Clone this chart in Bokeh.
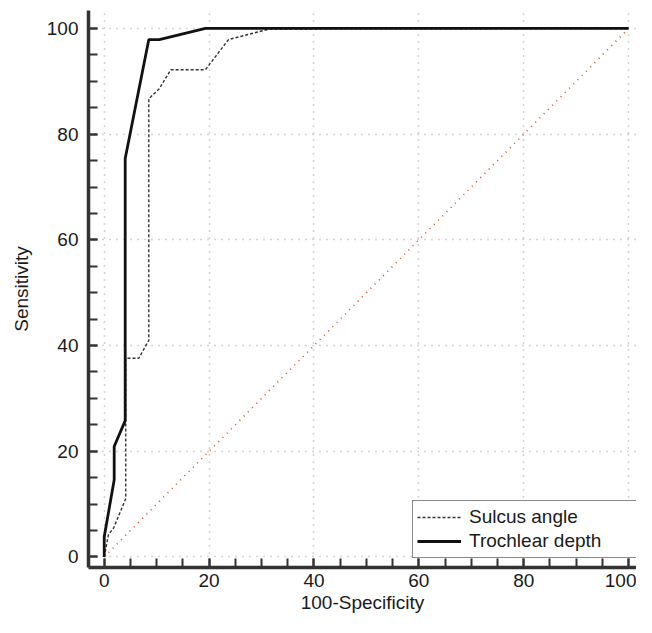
from bokeh.plotting import figure
from bokeh.models import SingleIntervalTicker, Range1d
from bokeh.embed import file_html
from bokeh.resources import INLINE

# ROC curves (x = 100-Specificity, y = Sensitivity)
sulcus_x = [0, 0.8, 1.8, 4.1, 4.1, 6.6, 8.5, 8.5, 10.5, 12.7, 19.3, 23.7, 31.5, 100]
sulcus_y = [0, 4.2, 5.5, 11.0, 37.6, 37.6, 41.0, 86.7, 88.6, 92.2, 92.2, 97.9, 99.9, 100]

trochlear_x = [0, 0, 1.9, 1.9, 4.0, 4.0, 8.5, 10.5, 19.3, 100]
trochlear_y = [0, 3.8, 14.6, 20.9, 25.8, 75.4, 97.9, 97.9, 100, 100]

diag_x = [0, 100]
diag_y = [0, 100]

FONT = "Liberation Sans"

p = figure(width=636, height=617, output_backend="svg", toolbar_location=None,
           x_range=Range1d(-3, 101.5), y_range=Range1d(-2, 103.4),
           min_border_left=88, min_border_right=0, min_border_top=10, min_border_bottom=50,
           background_fill_color="white", border_fill_color="white")
p.outline_line_color = None

p.line(diag_x, diag_y, line_color="#d4502c", line_width=1.6, line_dash="1 5")
p.line(sulcus_x, sulcus_y, line_color="#333333", line_width=1.4, line_dash="3 2",
       legend_label="Sulcus angle")
p.line(trochlear_x, trochlear_y, line_color="#111111", line_width=2.8,
       legend_label="Trochlear depth")

for ax in (p.xaxis[0], p.yaxis[0]):
    ax.ticker = SingleIntervalTicker(interval=20, num_minor_ticks=4)
    ax.axis_line_width = 3.5
    ax.axis_line_color = "#333333"
    ax.major_tick_in = 9
    ax.major_tick_out = 0
    ax.minor_tick_in = 9
    ax.minor_tick_out = 0
    ax.major_tick_line_width = 2
    ax.minor_tick_line_width = 2
    ax.major_tick_line_color = "#333333"
    ax.minor_tick_line_color = "#333333"
    ax.major_label_text_font = FONT
    ax.major_label_text_font_size = "19px"
    ax.major_label_text_color = "#1a1a1a"
    ax.axis_label_text_font = FONT
    ax.axis_label_text_font_size = "19px"
    ax.axis_label_text_font_style = "normal"
    ax.axis_label_text_color = "#1a1a1a"

p.xaxis.axis_label = "100-Specificity"
p.yaxis.axis_label = "Sensitivity"
p.xaxis.major_label_standoff = 6
p.xaxis.axis_label_standoff = 2
p.yaxis.major_label_standoff = 10
p.yaxis.axis_label_standoff = 12

for g in (p.xgrid[0], p.ygrid[0]):
    g.ticker = SingleIntervalTicker(interval=20)
    g.grid_line_color = "#aaaaaa"
    g.grid_line_width = 1.5
    g.grid_line_dash = "1 6"

lg = p.legend[0]
lg.location = (324, 9)
lg.border_line_color = "#111111"
lg.border_line_width = 1.6
lg.background_fill_color = "white"
lg.background_fill_alpha = 1
lg.padding = 4
lg.spacing = 0
lg.margin = 0
lg.glyph_width = 44
lg.glyph_height = 24
lg.label_height = 24
lg.label_width = 163
lg.label_standoff = 8
lg.label_text_font = FONT
lg.label_text_font_size = "19px"
lg.label_text_color = "#1a1a1a"

open("out.html", "w").write(file_html(p, INLINE))
